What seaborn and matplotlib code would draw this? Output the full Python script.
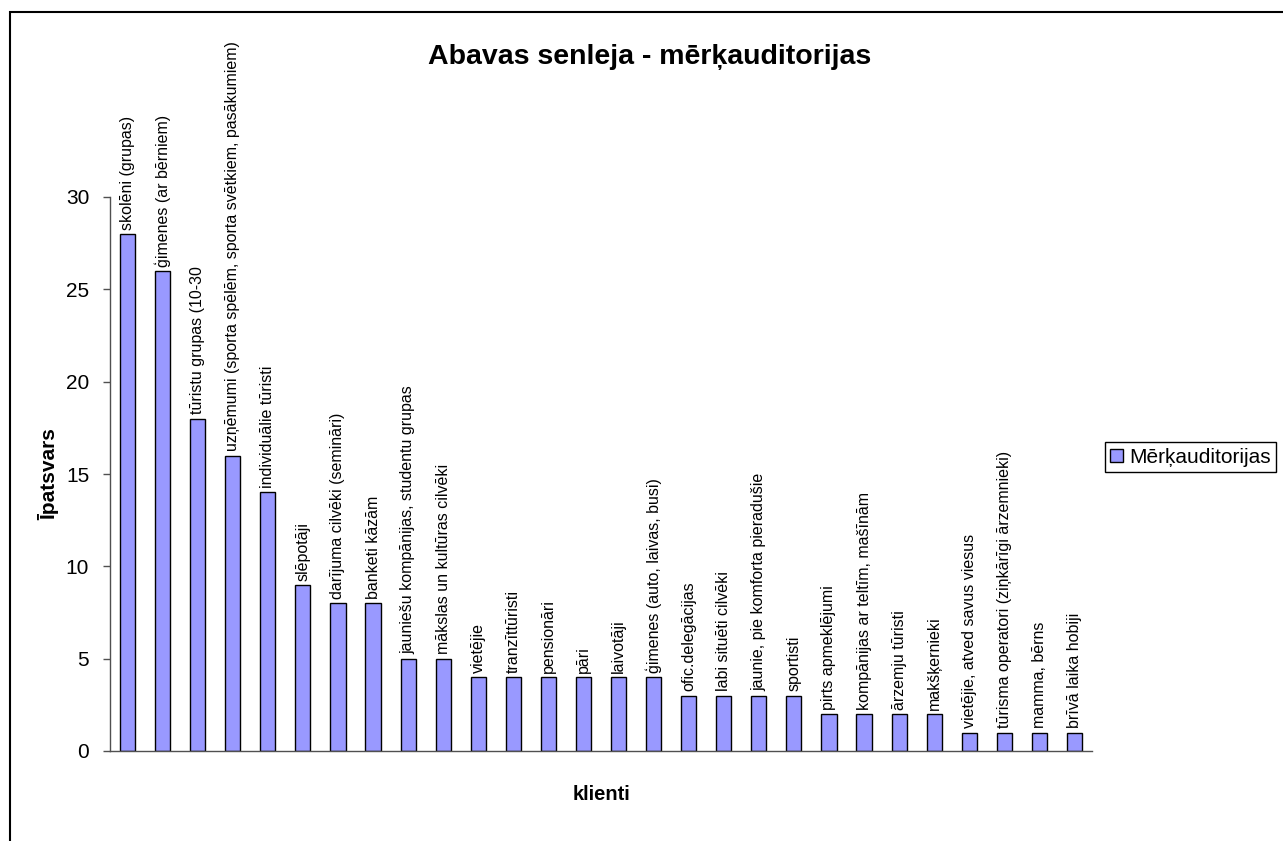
import matplotlib
matplotlib.use("Agg")
import matplotlib.pyplot as plt
import matplotlib.patches as mpatches
import pandas as pd
import seaborn as sns

# ─── Data ───────────────────────────────────────────────────────────────────────
categories = [
    "skolēni (grupas)",
    "ģimenes (ar bērniem)",
    "tūristu grupas (10-30",
    "uzņēmumi (sporta spēlēm, sporta svētkiem, pasākumiem)",
    "individuālie tūristi",
    "slēpotāji",
    "darījuma cilvēki (semināri)",
    "banketi kāzām",
    "jauniešu kompānijas, studentu grupas",
    "mākslas un kultūras cilvēki",
    "vietējie",
    "tranzīttūristi",
    "pensionāri",
    "pāri",
    "laivotāji",
    "ģimenes (auto, laivas, busi)",
    "ofic.delegācijas",
    "labi situēti cilvēki",
    "jaunie, pie komforta pieradušie",
    "sportisti",
    "pirts apmeklējumi",
    "kompānijas ar teltīm, mašīnām",
    "ārzemju tūristi",
    "makšķernieki",
    "vietējie, atved savus viesus",
    "tūrisma operatori (ziņkārīgi ārzemnieki)",
    "mamma, bērns",
    "brīvā laika hobiji",
]
values = [28, 26, 18, 16, 14, 9, 8, 8, 5, 5, 4, 4, 4, 4, 4, 4,
          3, 3, 3, 3, 2, 2, 2, 2, 1, 1, 1, 1]
series_name = "Mērķauditorijas"
y_ticks = [0, 5, 10, 15, 20, 25, 30]

title = "Abavas senleja - mērķauditorijas"
x_label = "klienti"
y_label = "Īpatsvars"

BAR_COLOR = "#9999FF"
AXIS_COLOR = "#505050"

# ─── Style ──────────────────────────────────────────────────────────────────────
sns.set_style("white")
plt.rcParams["font.family"] = ["Liberation Sans", "DejaVu Sans"]
plt.rcParams["text.color"] = "black"
plt.rcParams["axes.labelcolor"] = "black"
plt.rcParams["ytick.labelcolor"] = "black"

df = pd.DataFrame({"klients": categories, "vertiba": values,
                   "serija": series_name})

fig = plt.figure(figsize=(12.83, 8.41), dpi=100, facecolor="white")
ax = fig.add_axes([110 / 1283, 1 - 751 / 841, 982 / 1283, 554 / 841])

sns.barplot(data=df, x="klients", y="vertiba", hue="serija",
            palette={series_name: BAR_COLOR}, saturation=1, width=0.43,
            edgecolor="black", linewidth=1, ax=ax, legend=True)

# labels above bars
for cont in ax.containers:
    ax.bar_label(cont, labels=categories, rotation=90, padding=3,
                 fontsize=11.5, color="black")

ax.set_xlim(-0.5, len(categories) - 0.5)
ax.set_ylim(0, 30)
ax.set_yticks(y_ticks)
ax.set_xticks([])
ax.tick_params(axis="y", direction="out", length=5, width=1,
               color=AXIS_COLOR, labelcolor="black", labelsize=15,
               pad=10, left=True)

for side in ["top", "right"]:
    ax.spines[side].set_visible(False)
for side in ["left", "bottom"]:
    ax.spines[side].set_color(AXIS_COLOR)
    ax.spines[side].set_linewidth(1)

ax.set_xlabel(x_label, fontsize=14.5, fontweight="bold", color="black")
ax.set_ylabel(y_label, fontsize=15, fontweight="bold", color="black")
ax.xaxis.set_label_coords(0.5, -0.061)
ax.yaxis.set_label_coords(-0.052, 0.5)

fig.text(650 / 1283, 1 - 57 / 841, title, ha="center", va="center",
         fontsize=20.5, fontweight="bold", color="black")

# legend outside on the right, frame runs off the edge like the original
handles, labels = ax.get_legend_handles_labels()
leg = ax.legend(handles, labels, loc="center left",
                bbox_to_anchor=(1105 / 1283, 1 - 457 / 841),
                bbox_transform=fig.transFigure, fontsize=15, frameon=True,
                fancybox=False, edgecolor="black", framealpha=1,
                handlelength=0.6, handleheight=0.6, handletextpad=0.3,
                borderpad=0.25, borderaxespad=0)
leg.get_frame().set_linewidth(1)
for t in leg.get_texts():
    t.set_color("black")

# chart-area frame (cut off at right and bottom like the original)
fig.patches.append(mpatches.Rectangle(
    (10 / 1283, -0.05), 1.1, 1 - 12 / 841 + 0.05,
    transform=fig.transFigure, fill=False, edgecolor="black",
    linewidth=1.5, zorder=0))

fig.savefig("out.png", dpi=100, facecolor="white")
